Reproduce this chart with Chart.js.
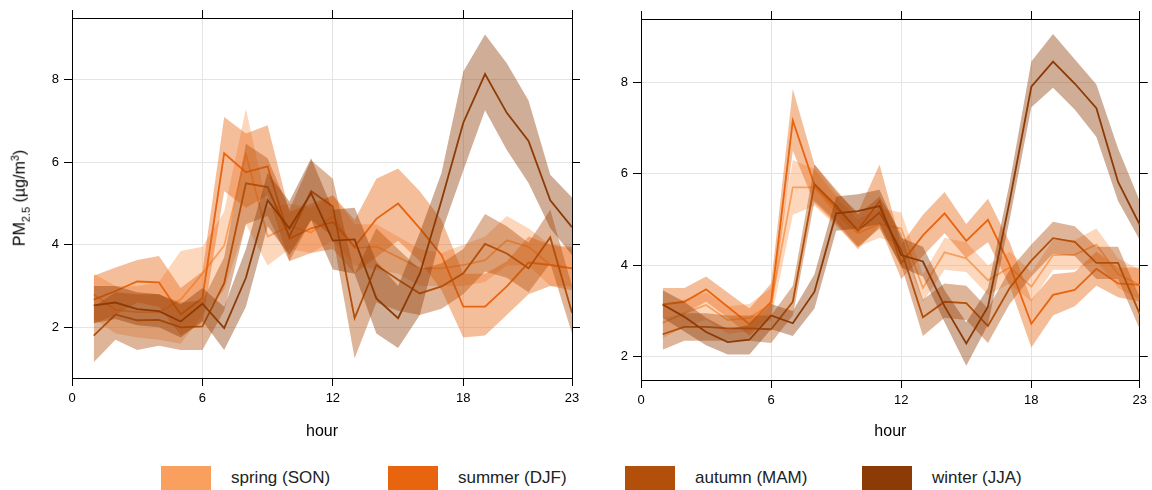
<!DOCTYPE html>
<html>
<head>
<meta charset="UTF-8">
<title>PM2.5 by hour and season</title>
<script src="https://cdn.jsdelivr.net/npm/chart.js"></script>
<style>
  body { margin: 0; background: #fff; font-family: "Liberation Sans", Arial, sans-serif; }
  #wrap { position: relative; width: 1152px; height: 490px; overflow: hidden; }
  canvas { position: absolute; top: 0; }
  #leftChart { left: 0; }
  #rightChart { left: 570px; }
  #ytitle { position: absolute; left: 20px; top: 198px; transform: translate(-50%, -50%) rotate(-90deg);
            font-size: 16px; white-space: nowrap; color: #000; }
  #ytitle sub, #ytitle sup { font-size: 11px; }
  .item { position: absolute; top: 466px; height: 24px; }
  .box { position: absolute; left: 0; top: 0; width: 50px; height: 24px; }
  .lbl { position: absolute; left: 70px; top: 0; line-height: 24px; font-size: 17px; white-space: nowrap; color: #222; }
</style>
</head>
<body>
<div id="wrap">
  <canvas id="leftChart" width="590" height="445"></canvas>
  <canvas id="rightChart" width="582" height="445"></canvas>
  <div id="ytitle">PM<sub>2.5</sub> (µg/m<sup>3</sup>)</div>
  <div id="legend"></div>
</div>

<script>
// hours on the x axis
const hours = [1, 2, 3, 4, 5, 6, 7, 8, 9, 10, 11, 12, 13, 14, 15, 16, 17, 18, 19, 20, 21, 22, 23];
const xTicks = [0, 6, 12, 18, 23];
const yTicks = [2, 4, 6, 8];

const seasonNames = ['spring (SON)', 'summer (DJF)', 'autumn (MAM)', 'winter (JJA)'];
const seasonColors = ['#F9A05F', '#E8640F', '#B24F0B', '#8D3B06'];

// left panel: mean, lower and upper interval
const leftSpring   = [2.8, 2.42, 2.37, 2.36, 2.67, 3.3, 3.98, 6.2, 4.2, 4.45, 4.3, 4.69, 3.92, 3.96, 3.7, 3.43, 3.43, 3.51, 3.63, 4.11, 3.95, 3.51, 3.43];
const leftSpringLo = [2.2, 1.85, 1.75, 1.7, 1.6, 2.3, 2.9, 4.5, 3.5, 3.9, 3.8, 4.1, 3.5, 3.4, 3.3, 3.0, 3.0, 3.0, 3.1, 3.5, 3.5, 3.0, 3.0];
const leftSpringHi = [3.3, 3.0, 3.0, 3.1, 3.85, 3.95, 4.8, 7.3, 4.9, 5.0, 4.9, 5.2, 4.5, 4.5, 4.2, 3.9, 3.8, 4.0, 4.2, 4.7, 4.4, 4.0, 3.9];

const leftSummer   = [2.67, 2.88, 3.11, 3.09, 2.31, 2.71, 6.22, 5.76, 5.9, 4.15, 4.4, 4.55, 3.95, 4.63, 5.0, 4.4, 3.75, 2.5, 2.5, 2.99, 3.57, 3.51, 3.43];
const leftSummerLo = [2.1, 2.3, 2.6, 2.5, 1.8, 2.1, 5.3, 4.9, 5.2, 3.6, 3.8, 3.9, 3.3, 3.7, 4.1, 3.6, 2.9, 1.75, 1.8, 2.3, 2.8, 3.0, 2.9];
const leftSummerHi = [3.25, 3.45, 3.63, 3.73, 2.95, 3.35, 7.1, 6.7, 6.9, 4.8, 5.0, 5.2, 4.6, 5.6, 5.85, 5.3, 4.6, 3.3, 3.3, 3.6, 4.2, 4.0, 3.95];

const leftAutumn   = [1.8, 2.31, 2.17, 2.18, 2.0, 2.02, 3.07, 5.49, 5.4, 4.2, 5.3, 4.93, 2.22, 3.51, 3.15, 2.82, 2.99, 3.31, 4.02, 3.79, 3.43, 4.18, 2.35];
const leftAutumnLo = [1.15, 1.7, 1.45, 1.55, 1.45, 1.45, 2.4, 4.5, 4.7, 3.6, 4.6, 4.2, 1.25, 2.6, 2.4, 2.3, 2.45, 2.8, 3.35, 3.2, 2.85, 3.55, 1.85];
const leftAutumnHi = [2.5, 2.85, 2.8, 2.8, 2.6, 2.65, 3.7, 6.45, 6.1, 4.85, 6.05, 5.6, 3.3, 4.4, 3.9, 3.4, 3.55, 3.9, 4.75, 4.45, 4.05, 4.85, 3.0];

const leftWinter   = [2.53, 2.6, 2.44, 2.39, 2.14, 2.57, 1.98, 3.2, 5.08, 4.4, 5.25, 4.1, 4.13, 2.7, 2.22, 3.3, 5.08, 6.96, 8.14, 7.2, 6.52, 5.08, 4.43];
const leftWinterLo = [2.1, 2.2, 2.05, 2.0, 1.75, 2.15, 1.45, 2.5, 4.45, 3.75, 4.6, 3.4, 3.3, 1.85, 1.5, 2.3, 4.3, 5.8, 7.26, 6.3, 5.5, 4.4, 3.75];
const leftWinterHi = [3.0, 3.0, 2.85, 2.8, 2.55, 2.95, 2.5, 3.9, 5.75, 5.05, 6.1, 4.85, 4.9, 3.6, 3.0, 4.3, 5.75, 8.2, 9.1, 8.4, 7.5, 5.7, 5.15];

// right panel
const rightSpring   = [2.74, 2.95, 3.13, 2.8, 2.85, 3.15, 5.7, 5.7, 5.15, 4.7, 4.9, 4.8, 3.5, 4.28, 4.15, 3.67, 3.95, 3.53, 4.22, 4.23, 4.45, 3.8, 3.57];
const rightSpringLo = [2.4, 2.65, 2.8, 2.5, 2.55, 2.8, 5.1, 5.3, 4.85, 4.4, 4.6, 4.45, 3.2, 3.9, 3.85, 3.35, 3.6, 3.2, 3.9, 3.9, 4.1, 3.5, 3.25];
const rightSpringHi = [3.1, 3.25, 3.4, 3.1, 3.15, 3.5, 6.3, 6.1, 5.5, 5.0, 5.25, 5.15, 3.8, 4.6, 4.5, 4.0, 4.3, 3.85, 4.55, 4.55, 4.8, 4.15, 3.9];

const rightSummer   = [3.14, 3.2, 3.47, 3.09, 2.71, 3.2, 7.16, 5.75, 5.24, 4.77, 5.4, 4.04, 4.65, 5.13, 4.53, 4.99, 4.0, 2.72, 3.35, 3.46, 3.92, 3.6, 3.57];
const rightSummerLo = [2.85, 2.95, 3.2, 2.85, 2.45, 2.9, 6.5, 5.35, 4.9, 4.35, 4.85, 3.7, 4.2, 4.7, 4.15, 4.5, 3.55, 2.2, 2.9, 3.1, 3.55, 3.3, 3.2];
const rightSummerHi = [3.5, 3.5, 3.75, 3.4, 3.05, 3.6, 7.85, 6.2, 5.6, 5.15, 6.2, 4.45, 5.1, 5.6, 4.9, 5.45, 4.5, 3.25, 3.8, 3.85, 4.3, 3.95, 3.95];

const rightAutumn   = [2.49, 2.65, 2.65, 2.62, 2.62, 2.6, 3.2, 5.77, 5.3, 4.75, 5.15, 4.33, 2.86, 3.2, 3.17, 2.67, 3.5, 4.1, 4.59, 4.51, 4.05, 4.05, 2.93];
const rightAutumnLo = [2.15, 2.35, 2.35, 2.35, 2.35, 2.3, 2.9, 5.4, 4.95, 4.4, 4.8, 4.0, 2.45, 2.85, 2.8, 2.3, 3.15, 3.75, 4.25, 4.2, 3.7, 3.7, 2.6];
const rightAutumnHi = [2.85, 2.95, 2.95, 2.9, 2.9, 2.9, 3.55, 6.2, 5.65, 5.1, 5.5, 4.7, 3.25, 3.6, 3.55, 3.05, 3.9, 4.45, 4.95, 4.85, 4.4, 4.4, 3.3];

const rightWinter   = [3.14, 2.87, 2.54, 2.32, 2.37, 2.9, 2.73, 3.42, 5.13, 5.18, 5.29, 4.22, 4.08, 3.1, 2.29, 3.09, 5.4, 7.9, 8.45, 7.97, 7.43, 5.82, 4.88];
const rightWinterLo = [2.85, 2.55, 2.25, 2.05, 2.05, 2.6, 2.45, 3.05, 4.75, 4.8, 4.9, 3.95, 3.75, 2.75, 1.8, 2.7, 5.0, 7.45, 7.88, 7.4, 6.8, 5.4, 4.55];
const rightWinterHi = [3.45, 3.2, 2.85, 2.6, 2.7, 3.15, 3.0, 3.8, 5.5, 5.55, 5.65, 4.6, 4.4, 3.45, 2.75, 3.5, 5.8, 8.45, 9.05, 8.5, 7.95, 6.55, 5.4];

const FONT = '"Liberation Sans", Arial, sans-serif';

function pts(values) {
    return hours.map((h, i) => ({ x: h, y: values[i] }));
}

function withAlpha(hex, a) {
    const n = parseInt(hex.slice(1), 16);
    return `rgba(${(n >> 16) & 255}, ${(n >> 8) & 255}, ${n & 255}, ${a})`;
}

function fixedTicks(list) {
    return scale => { scale.ticks = list.map(v => ({ value: v })); };
}

// series = [[mean, lo, hi], ...] in season order; first season is drawn at the bottom
function makeChart(id, yMin, yMax, series, box) {
    const datasets = [];
    let order = series.length * 3;
    series.forEach((s, k) => {
        datasets.push({ data: pts(s[1]), borderWidth: 0, pointRadius: 0, fill: false, order: order-- });
        datasets.push({ data: pts(s[2]), borderWidth: 0, pointRadius: 0, fill: '-1',
                        backgroundColor: withAlpha(seasonColors[k], 0.42), order: order-- });
        datasets.push({ data: pts(s[0]), borderColor: seasonColors[k], borderWidth: 1.8,
                        pointRadius: 0, fill: false, order: order-- });
    });

    const gridMain = { color: '#e4e4e4', tickColor: '#000', tickLength: 8, lineWidth: 1 };
    const gridSide = { drawOnChartArea: false, tickColor: '#000', tickLength: 8 };
    const border = { color: '#000', width: 1 };

    return new Chart(document.getElementById(id), {
        type: 'line',
        data: { datasets },
        options: {
            responsive: false,
            animation: false,
            events: [],
            layout: { padding: 0 },
            plugins: { legend: { display: false }, tooltip: { enabled: false } },
            scales: {
                x: {
                    type: 'linear', position: 'bottom', min: 0, max: 23,
                    afterBuildTicks: fixedTicks(xTicks),
                    grid: gridMain, border,
                    ticks: { color: '#000', font: { family: FONT, size: 13 }, padding: 5, maxRotation: 0, autoSkip: false },
                    title: { display: true, text: 'hour', color: '#000', font: { family: FONT, size: 16 }, padding: { top: 4, bottom: 4 } },
                    afterFit: s => { s.height = box.bottom; }
                },
                x2: {
                    type: 'linear', position: 'top', min: 0, max: 23,
                    afterBuildTicks: fixedTicks(xTicks),
                    grid: gridSide, border,
                    ticks: { display: false },
                    afterFit: s => { s.height = box.top; }
                },
                y: {
                    type: 'linear', position: 'left', min: yMin, max: yMax,
                    afterBuildTicks: fixedTicks(yTicks),
                    grid: gridMain, border,
                    ticks: { color: '#000', font: { family: FONT, size: 13 }, padding: 5 },
                    afterFit: s => { s.width = box.left; }
                },
                y2: {
                    type: 'linear', position: 'right', min: yMin, max: yMax,
                    afterBuildTicks: fixedTicks(yTicks),
                    grid: gridSide, border,
                    ticks: { display: false },
                    afterFit: s => { s.width = box.right; }
                }
            }
        }
    });
}

makeChart('leftChart', 0.77, 9.5, [
    [leftSpring, leftSpringLo, leftSpringHi],
    [leftSummer, leftSummerLo, leftSummerHi],
    [leftAutumn, leftAutumnLo, leftAutumnHi],
    [leftWinter, leftWinterLo, leftWinterHi]
], { left: 72, right: 18, top: 18, bottom: 67 });

makeChart('rightChart', 1.49, 9.38, [
    [rightSpring, rightSpringLo, rightSpringHi],
    [rightSummer, rightSummerLo, rightSummerHi],
    [rightAutumn, rightAutumnLo, rightAutumnHi],
    [rightWinter, rightWinterLo, rightWinterHi]
], { left: 71, right: 10, top: 19, bottom: 65 });

// legend along the bottom
const legendLeft = [161, 388, 625, 862];
const legend = document.getElementById('legend');
seasonNames.forEach((name, k) => {
    const item = document.createElement('div');
    item.className = 'item';
    item.style.left = legendLeft[k] + 'px';
    item.innerHTML = `<div class="box" style="background:${seasonColors[k]}"></div><span class="lbl">${name}</span>`;
    legend.appendChild(item);
});
</script>
</body>
</html>
